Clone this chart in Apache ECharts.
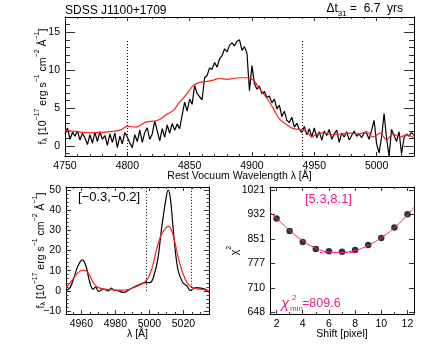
<!DOCTYPE html>
<html>
<head>
<meta charset="utf-8">
<script src="https://cdn.jsdelivr.net/npm/echarts@6/dist/echarts.min.js"></script>
<style>
html, body { margin: 0; padding: 0; background: #fff; }
#chart { width: 436px; height: 349px; }
</style>
</head>
<body>
<div id="chart"></div>
<script>
// ---- top panel: H-beta region, spectrum sampled every 2 A from 4750
const topStart = 4750
const topStep = 2
const topFlux = [
  1.6, 2.4, 0.9, 1.8, 1.3, 2.0, 0.8, 1.7, 1.1, 0.2,
  1.5, 0.4, 1.8, 0.6, 1.9, 0.9, 1.4, 0.1, 1.6, 0.5,
  1.7, -0.2, 1.3, 0.3, 1.8, 1.2, 0.4, -0.2, 1.5, 0.6,
  2.1, 0.5, 1.8, 2.4, 0.9, 1.6, 3.3, 2.0, 0.7, 2.3,
  1.2, 2.8, 1.7, 3.0, 2.1, 2.9, 2.3, 4.1, 5.8, 4.6,
  6.2, 5.5, 8.0, 6.9, 6.5, 6.1, 9.0, 9.3, 10.3, 10.1,
  11.0, 10.4, 11.5, 11.9, 12.8, 12.4, 13.3, 13.6, 13.2, 13.8,
  14.0, 12.6, 13.1, 12.2, 7.3, 10.6, 8.2, 7.5, 7.9, 6.9,
  7.2, 6.4, 6.6, 5.7, 6.2, 4.9, 5.4, 3.9, 4.6, 3.4,
  3.1, 3.8, 2.5, 3.0, 2.2, 1.8, 2.6, 1.5, 2.3, 1.2,
  2.4, 1.1, 1.9, 0.8, 2.0, 1.4, 2.2, 0.9, 1.6, 2.1,
  0.5, 1.7, 1.2, 1.9, 0.8, 1.4, 2.0, 1.3, 1.6, 1.1,
  1.8, 1.7, 0.9, 2.1, 3.4, 0.3, -0.9, 1.2, 4.3, 1.0,
  -1.3, 2.2, 1.4, 0.6, 1.9, -1.0, 1.1, 1.6, 1.3, 1.8,
  1.4
]
const topModelWave = [4750, 4759, 4770, 4778, 4786, 4794, 4800, 4807, 4815, 4821, 4826, 4831, 4837, 4842, 4847, 4853, 4858, 4863, 4869, 4874, 4880, 4885, 4890, 4896, 4901, 4906, 4912, 4917, 4922, 4928, 4933, 4938, 4944, 4948, 4952, 4957, 4965, 4972, 4979, 4986, 4992, 4997, 5003, 5008, 5013, 5019, 5024, 5030]
const topModelFlux = [2.1, 1.9, 1.75, 1.8, 1.9, 2.1, 2.6, 2.5, 3.2, 3.3, 3.5, 4.1, 4.7, 5.8, 6.7, 8.0, 8.4, 8.5, 8.7, 8.9, 8.8, 8.9, 9.0, 9.0, 8.7, 7.6, 6.3, 5.0, 3.6, 2.8, 2.3, 2.2, 1.9, 1.2, 1.6, 1.75, 1.5, 1.6, 1.7, 1.6, 1.9, 1.2, 1.7, 0.8, 1.6, 1.2, 1.5, 1.1]
const topWindow = [4800, 4940]

// ---- bottom left: [OIII] region
const blWave = [4951, 4953.4, 4956, 4958, 4960.6, 4962.7, 4965, 4967, 4968.5, 4970, 4973, 4976, 4977.5, 4979, 4982, 4984.5, 4988.6, 4992.5, 4998, 5000.4, 5002.3, 5005, 5007, 5009.6, 5011, 5012.3, 5014, 5016.7, 5019.6, 5022, 5024, 5027.4, 5033, 5035]
const blFlux = [0, 1.6, 7.4, 12.3, 15.3, 12.3, 4.1, 0.8, 2.0, -0.3, 0.8, 0, 1.4, 0.4, 0, -0.8, 0.8, 2.5, 4.1, 4.1, 6.6, 16, 30, 45, 50, 46, 30.4, 10.7, 4.1, 2.5, 0.2, 1.6, 0.8, -0.8]
const blModelWave = [4951, 4955, 4958, 4961, 4964, 4967, 4970, 4977, 4985, 4991, 4998, 5001.3, 5004.2, 5007, 5010, 5011.2, 5013, 5015, 5018, 5022, 5025.5, 5030, 5035]
const blModelFlux = [1.6, 5.7, 9, 10.3, 9, 4.1, 1.6, 0.5, 0.3, 1.6, 4.9, 10.7, 20.5, 27.9, 31.5, 32, 30, 23.8, 13.1, 4.1, 1.6, 0.8, 0]
const blWindow = [4998, 5024.5]

// ---- bottom right: chi2 vs shift
const shifts = [2, 3, 4, 5, 6, 7, 8, 9, 10, 11, 12]
const chi2 = [918, 877, 842, 820, 813, 812, 817, 832, 854, 888, 933]
const fitShift = [1.5, 2, 3, 4, 5, 6, 6.7, 7, 8, 9, 10, 11, 12, 12.5]
const fitChi2 = [940, 919, 879, 846, 823, 811, 809.6, 810, 816, 831, 855, 888, 931, 958]
const chi2Ticks = [648, 710, 777, 851, 932, 1021]
const shiftRange = [5.3, 8.1]
const chi2Band = 811

const FONT = 'Liberation Sans, Arial, Helvetica, sans-serif'
const RED = '#ff2020'
const PINK = '#ee1a8c'

// chi2 axis is logarithmic, ticks evenly spaced between 648 and 1021
const lg0 = Math.log10(chi2Ticks[0])
const lgStep = (Math.log10(chi2Ticks[chi2Ticks.length - 1]) - lg0) / (chi2Ticks.length - 1)
function toU (v) { return (Math.log10(v) - lg0) / lgStep }
function fromU (u) { return Math.round(Math.pow(10, lg0 + u * lgStep)) }

function steps (a, b, s, skip) {
  const out = []
  for (let v = a; v <= b + 1e-9; v += s) {
    const r = Math.round(v * 100) / 100
    if (skip.indexOf(r) < 0) out.push(r)
  }
  return out
}

const supRich = {
  n: { fontSize: 10.5, fontFamily: FONT, color: '#000', lineHeight: 15, verticalAlign: 'bottom' },
  sub: { fontSize: 7, fontFamily: FONT, color: '#000', lineHeight: 8, verticalAlign: 'bottom' },
  sup: { fontSize: 7, fontFamily: FONT, color: '#000', lineHeight: 8, verticalAlign: 'top' }
}
const fluxName = '{n|f}{sub|λ}{n| [10}{sup|−17}{n| erg s}{sup|−1}{n| cm}{sup|−2}{n| Å}{sup|−1}{n|]}'

// four axes per side: bottom/left (major, minor) + top/right (major, minor)
function boxAxes (grid, dim, min, max, majors, minors, tickLen, ext) {
  const pos = dim === 'x' ? ['bottom', 'top'] : ['left', 'right']
  const list = []
  pos.forEach(function (p, i) {
    [[majors, tickLen], [minors, tickLen / 2]].forEach(function (t, j) {
      const main = i === 0 && j === 0
      const ax = {
        type: 'value',
        gridIndex: grid,
        position: p,
        min: min,
        max: max,
        splitLine: { show: false },
        axisLine: { show: j === 0, onZero: false, lineStyle: { color: '#000', width: 1 } },
        axisTick: t[0] ? { show: true, inside: true, length: t[1], customValues: t[0], lineStyle: { color: '#333', width: 1 } } : { show: false },
        axisLabel: {
          show: main,
          customValues: majors,
          margin: 5,
          fontSize: 10.5,
          fontFamily: FONT,
          color: '#000',
          formatter: ext.fmt || function (v) { return v < 0 ? '−' + (-v) : String(v) }
        }
      }
      if (main) {
        ax.name = ext.name
        ax.nameLocation = 'middle'
        ax.nameGap = ext.gap
        ax.nameMoveOverlap = false
        ax.nameRotate = ext.rotate || 0
        ax.nameTextStyle = { fontSize: 10.5, fontFamily: FONT, color: '#000', rich: supRich }
      }
      list.push(ax)
    })
  })
  return list
}

const xAxes = [].concat(
  boxAxes(0, 'x', 4750, 5030, [4750, 4800, 4850, 4900, 4950, 5000], steps(4760, 5020, 10, [4800, 4850, 4900, 4950, 5000]), 4,
    { name: 'Rest Vocuum Wavelength λ [Å]', gap: 15 }),
  boxAxes(1, 'x', 4951, 5035, [4960, 4980, 5000, 5020], steps(4955, 5030, 5, [4960, 4980, 5000, 5020]), 4,
    { name: 'λ [Å]', gap: 15 }),
  boxAxes(2, 'x', 1.5, 12.5, [2, 4, 6, 8, 10, 12], [3, 5, 7, 9, 11], 4,
    { name: 'Shift [pixel]', gap: 15 })
)
const yAxes = [].concat(
  boxAxes(0, 'y', -1.3, 17, [0, 5, 10, 15], steps(-1, 16, 1, [0, 5, 10, 15]), 10,
    { name: fluxName, gap: 16, rotate: 90 }),
  boxAxes(1, 'y', -11.5, 51.5, [-10, 0, 10, 20, 30, 40, 50], steps(-8, 50, 2, [0, 10, 20, 30, 40, 50]), 5,
    { name: fluxName, gap: 19, rotate: 90 }),
  boxAxes(2, 'y', -0.065, 5.122, chi2Ticks.map(toU), null, 5,
    { name: '{n|χ}{sup|2}', gap: 29, rotate: 90, fmt: function (v) { return String(fromU(v)) } })
)

function vlines (xs, y0, y1) {
  return xs.map(function (x) { return [{ coord: [x, y0] }, { coord: [x, y1] }] })
}
const dotted = { color: '#000', width: 1, type: [1, 2] }

const option = {
  animation: false,
  backgroundColor: '#fff',
  grid: [
    { left: 65, top: 17, width: 349, height: 139 },
    { left: 66, top: 187, width: 143, height: 127 },
    { left: 270, top: 187, width: 144, height: 127 }
  ],
  xAxis: xAxes,
  yAxis: yAxes,
  series: [
    {
      type: 'line', xAxisIndex: 0, yAxisIndex: 0, showSymbol: false,
      lineStyle: { color: '#000', width: 1.2 },
      data: topFlux.map(function (f, i) { return [topStart + i * topStep, f] }),
      markLine: { silent: true, symbol: 'none', label: { show: false }, lineStyle: dotted, data: vlines(topWindow, -1.3, 14) }
    },
    {
      type: 'line', xAxisIndex: 0, yAxisIndex: 0, showSymbol: false, smooth: 0.3,
      lineStyle: { color: RED, width: 1.2 },
      data: topModelWave.map(function (w, i) { return [w, topModelFlux[i]] })
    },
    {
      type: 'line', xAxisIndex: 4, yAxisIndex: 4, showSymbol: false, smooth: 0.4,
      lineStyle: { color: '#000', width: 1.2 },
      data: blWave.map(function (w, i) { return [w, blFlux[i]] }),
      markLine: { silent: true, symbol: 'none', label: { show: false }, lineStyle: dotted, data: vlines(blWindow, 0, 51.5) }
    },
    {
      type: 'line', xAxisIndex: 4, yAxisIndex: 4, showSymbol: false, smooth: 0.4,
      lineStyle: { color: RED, width: 1.2 },
      data: blModelWave.map(function (w, i) { return [w, blModelFlux[i]] })
    },
    {
      type: 'line', xAxisIndex: 8, yAxisIndex: 8, showSymbol: false, smooth: 0.5,
      lineStyle: { color: PINK, width: 1 },
      data: fitShift.map(function (s, i) { return [s, toU(fitChi2[i])] }),
      markLine: {
        silent: true, symbol: 'none', label: { show: false },
        lineStyle: { color: PINK, width: 1, type: [3, 2] },
        data: [[{ coord: [shiftRange[0], toU(chi2Band)] }, { coord: [shiftRange[1], toU(chi2Band)] }]]
      }
    },
    {
      type: 'scatter', xAxisIndex: 8, yAxisIndex: 8, symbol: 'circle', symbolSize: 6.5,
      itemStyle: { color: '#000' },
      data: shifts.map(function (s, i) { return [s, toU(chi2[i])] })
    }
  ],
  graphic: [
    { type: 'text', left: 65, top: 5, style: { text: 'SDSS J1100+1709', font: '12px ' + FONT, fill: '#000' } },
    {
      type: 'text', right: 33, top: 3,
      style: {
        text: '{a|Δt}{s|31}{a| =  6.7  yrs}',
        rich: {
          a: { font: '12px ' + FONT, fill: '#000', lineHeight: 15, verticalAlign: 'top' },
          s: { font: '8px ' + FONT, fill: '#000', lineHeight: 8, verticalAlign: 'bottom' }
        }
      }
    },
    { type: 'text', left: 78, top: 191, style: { text: '[−0.3,−0.2]', font: '13px ' + FONT, fill: '#000' } },
    { type: 'text', left: 305, top: 193, style: { text: '[5.3,8.1]', font: '13px ' + FONT, fill: PINK } },
    { type: 'text', left: 281, top: 296, style: { text: 'χ', font: 'italic 15px ' + FONT, fill: PINK } },
    { type: 'text', left: 292, top: 294, style: { text: '2', font: '8px ' + FONT, fill: PINK } },
    { type: 'text', left: 290, top: 305, style: { text: 'min', font: '8px ' + FONT, fill: PINK } },
    { type: 'text', left: 302, top: 297, style: { text: '=809.6', font: '12.5px ' + FONT, fill: PINK } }
  ]
}

const chart = echarts.init(document.getElementById('chart'))
chart.setOption(option)
window.onresize = function () { chart.resize() }
</script>
</body>
</html>
